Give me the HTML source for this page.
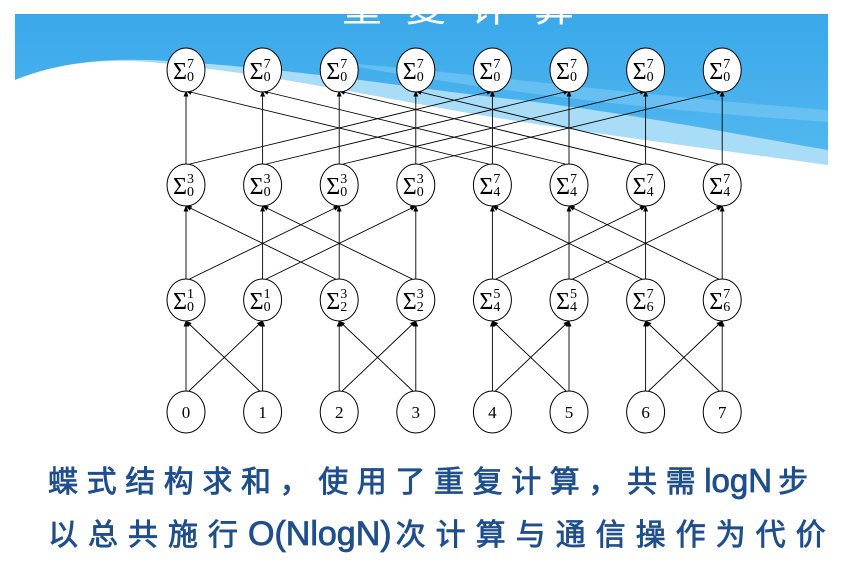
<!DOCTYPE html>
<html><head><meta charset="utf-8"><style>
html,body{margin:0;padding:0;background:#fff;}
svg{display:block;}
</style></head><body>
<svg id="s" width="842" height="565" viewBox="0 0 842 565" xmlns="http://www.w3.org/2000/svg">
<defs>
<linearGradient id="bg" x1="0" y1="0" x2="0" y2="1">
<stop offset="0" stop-color="#3aa8ea"/><stop offset="1" stop-color="#55b9f0"/>
</linearGradient>
<clipPath id="bc"><rect x="15" y="14" width="813" height="160"/></clipPath>
<marker id="ah" viewBox="0 0 10 10" refX="9" refY="5" markerWidth="7" markerHeight="7" orient="auto"><path d="M0,1 L10,5 L0,9 z" fill="#000"/></marker>
</defs>
<g clip-path="url(#bc)">
<rect x="15" y="14" width="813" height="160" fill="url(#bg)"/>
<text x="470" y="21" font-family="Liberation Sans, Noto Sans CJK SC, sans-serif" font-size="40" fill="#fff" text-anchor="middle" letter-spacing="24">重复计算</text>
<path d="M15,130 L15,80 C50,66 90,58 150,60 C300,68 420,90 520,100 C640,115 740,135 828,150 L828,174 L15,174 Z" fill="#a9dcf7"/>
<path d="M15,174 L15,80 C50,66 90,58 150,62 C280,75 380,98 480,115 C600,135 720,150 828,165 L828,174 Z" fill="#fff"/>
<path d="M330,62 C450,70 600,92 828,110 L828,122 C620,108 460,86 330,62 Z" fill="#7ccaf3" opacity="0.6"/>
</g>
<g id="edges" stroke="#000" stroke-width="0.9" fill="none"></g>
<g id="nodes" font-family="Liberation Serif, serif" fill="#000"></g>
<g font-family="Liberation Sans, Noto Sans CJK SC, sans-serif" font-size="30" fill="#1f4e8c" stroke="#1f4e8c" stroke-width="0.8">
<text x="48" y="492"><tspan letter-spacing="8.6">蝶式结构求和，使用了重复计算，共需</tspan><tspan font-size="33" letter-spacing="0">logN</tspan><tspan dx="6">步</tspan></text>
<text x="48" y="545"><tspan letter-spacing="10">以总共施行</tspan><tspan font-size="34" letter-spacing="0">O(NlogN)</tspan><tspan dx="4" letter-spacing="10">次计算与通信操作为代价</tspan></text>
</g>
</svg>
<script>
var NS="http://www.w3.org/2000/svg";
var xs=[],ys=[412,300,185,70];
for(var i=0;i<8;i++)xs.push(186+76.6*i);
var E=document.getElementById("edges"),N=document.getElementById("nodes");
function el(t,a,p){var e=document.createElementNS(NS,t);for(var k in a)e.setAttribute(k,a[k]);p.appendChild(e);return e;}
var rx=19,ry=21;
for(var l=0;l<3;l++){var b=1<<l;for(var i=0;i<8;i++){var tg=[i,i^b];for(var t=0;t<2;t++){var j=tg[t];
var x1=xs[i],y1=ys[l]-ry,x2=xs[j],y2=ys[l+1]+ry;
if(j!=i){var dx=x2-x1,dy=y2-y1;var L=Math.hypot(dx,dy);x1=xs[i]+dx/L*4;}
el("line",{x1:x1,y1:y1,x2:x2,y2:y2,"marker-end":"url(#ah)"},E);}}}
var labs=[["0","1","2","3","4","5","6","7"],
[["0","1"],["0","1"],["2","3"],["2","3"],["4","5"],["4","5"],["6","7"],["6","7"]],
[["0","3"],["0","3"],["0","3"],["0","3"],["4","7"],["4","7"],["4","7"],["4","7"]],
[["0","7"],["0","7"],["0","7"],["0","7"],["0","7"],["0","7"],["0","7"],["0","7"]]];
for(var l=0;l<4;l++)for(var i=0;i<8;i++){
var cx=xs[i],cy=ys[l];
el("ellipse",{cx:cx,cy:cy,rx:rx,ry:(l==3?22:ry),fill:"#fff",stroke:"#000","stroke-width":"1"},N);
if(l==0){var t=el("text",{x:cx,y:cy+6,"font-size":"17","text-anchor":"middle"},N);t.textContent=labs[0][i];}
else{var t=el("text",{x:cx-13,y:cy+9,"font-size":"24"},N);t.textContent="Σ";
var a=el("text",{x:cx+1,y:cy+11,"font-size":"14"},N);a.textContent=labs[l][i][0];
var c=el("text",{x:cx+1,y:cy-2,"font-size":"14"},N);c.textContent=labs[l][i][1];}
}
</script>
</body></html>
